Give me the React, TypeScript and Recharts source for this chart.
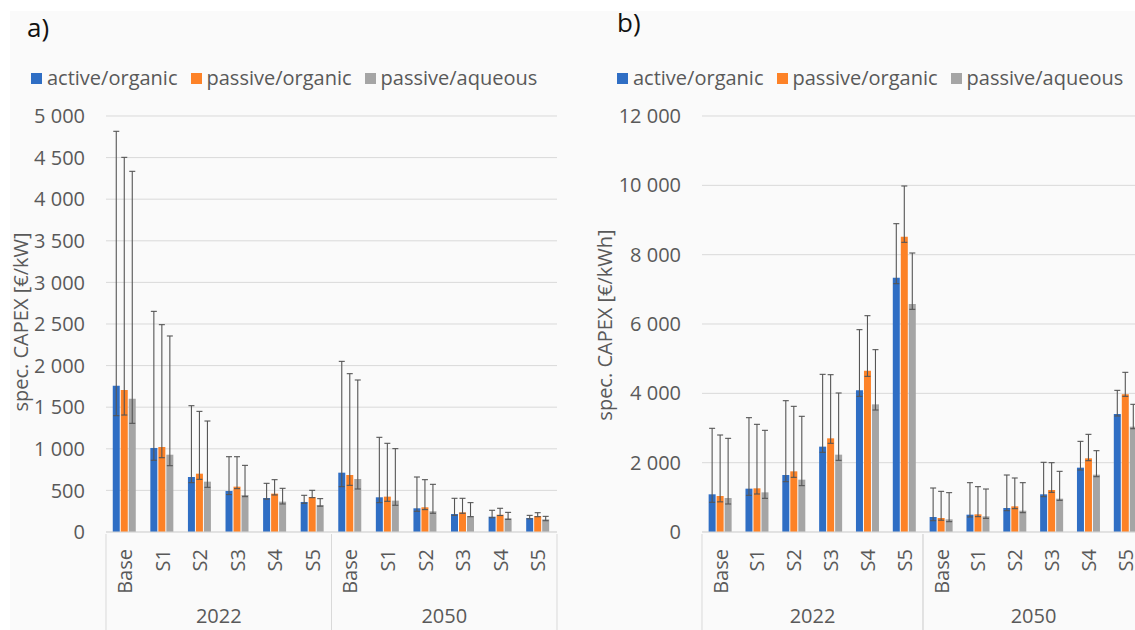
import { BarChart, Bar, XAxis, YAxis, CartesianGrid, ErrorBar } from "recharts";

const scenarios = ["Base", "S1", "S2", "S3", "S4", "S5", "Base", "S1", "S2", "S3", "S4", "S5"];
const years = ["2022", "2022", "2022", "2022", "2022", "2022", "2050", "2050", "2050", "2050", "2050", "2050"];
const seriesNames = ["active/organic", "passive/organic", "passive/aqueous"];

// a) spec. CAPEX [€/kW]
const kwActiveOrganic = [1758, 1010, 661, 493, 409, 361, 713, 417, 285, 216, 184, 168];
const kwActiveOrganicLow = [1398, 862, 593, 450, 395, 345, 545, 353, 249, 200, 172, 158];
const kwActiveOrganicHigh = [4816, 2652, 1518, 905, 585, 441, 2051, 1138, 661, 405, 261, 200];
const kwPassiveOrganic = [1707, 1022, 701, 545, 461, 421, 685, 425, 297, 236, 208, 192];
const kwPassiveOrganicLow = [1406, 893, 633, 521, 445, 413, 561, 369, 269, 225, 198, 184];
const kwPassiveOrganicHigh = [4503, 2492, 1450, 905, 629, 501, 1903, 1066, 629, 405, 285, 232];
const kwPassiveAqueous = [1603, 929, 605, 445, 365, 325, 637, 377, 249, 192, 164, 152];
const kwPassiveAqueousLow = [1306, 797, 537, 425, 337, 310, 517, 321, 225, 184, 152, 136];
const kwPassiveAqueousHigh = [4335, 2356, 1334, 801, 525, 401, 1827, 1002, 573, 353, 236, 188];
const kwTicks = [0, 500, 1000, 1500, 2000, 2500, 3000, 3500, 4000, 4500, 5000];

// b) spec. CAPEX [€/kWh]
const kwhActiveOrganic = [1087, 1250, 1644, 2462, 4086, 7337, 433, 500, 692, 1087, 1856, 3404];
const kwhActiveOrganicLow = [857, 1058, 1452, 2298, 3913, 7164, 327, 433, 615, 1019, 1788, 3346];
const kwhActiveOrganicHigh = [2991, 3298, 3788, 4548, 5837, 8894, 1269, 1423, 1644, 2010, 2615, 4086];
const kwhPassiveOrganic = [1038, 1260, 1750, 2702, 4654, 8519, 404, 510, 740, 1212, 2125, 3971];
const kwhPassiveOrganicLow = [870, 1096, 1577, 2558, 4490, 8356, 340, 443, 673, 1144, 2058, 3913];
const kwhPassiveOrganicHigh = [2798, 3106, 3625, 4538, 6240, 9981, 1173, 1308, 1558, 2000, 2817, 4606];
const kwhPassiveAqueous = [981, 1144, 1510, 2231, 3682, 6577, 365, 452, 615, 962, 1654, 3038];
const kwhPassiveAqueousLow = [808, 971, 1337, 2067, 3519, 6423, 298, 394, 558, 913, 1596, 2980];
const kwhPassiveAqueousHigh = [2702, 2933, 3337, 4010, 5260, 8048, 1135, 1240, 1423, 1750, 2346, 3683];
const kwhTicks = [0, 2000, 4000, 6000, 8000, 10000, 12000];

const colors = ["#2f6ec4", "#fd8227", "#a5a5a5"];
const font = "'Open Sans', sans-serif";
const textColor = "#595959";
const gridColor = "#d9d9d9";

const buildRows = (vals: number[][], lows: number[][], highs: number[][]) =>
  scenarios.map((scen, i) => ({
    scen,
    year: years[i],
    ao: vals[0][i],
    aoErr: [vals[0][i] - lows[0][i], highs[0][i] - vals[0][i]],
    po: vals[1][i],
    poErr: [vals[1][i] - lows[1][i], highs[1][i] - vals[1][i]],
    pa: vals[2][i],
    paErr: [vals[2][i] - lows[2][i], highs[2][i] - vals[2][i]],
  }));

const rowsKw = buildRows(
  [kwActiveOrganic, kwPassiveOrganic, kwPassiveAqueous],
  [kwActiveOrganicLow, kwPassiveOrganicLow, kwPassiveAqueousLow],
  [kwActiveOrganicHigh, kwPassiveOrganicHigh, kwPassiveAqueousHigh]
);
const rowsKwh = buildRows(
  [kwhActiveOrganic, kwhPassiveOrganic, kwhPassiveAqueous],
  [kwhActiveOrganicLow, kwhPassiveOrganicLow, kwhPassiveAqueousLow],
  [kwhActiveOrganicHigh, kwhPassiveOrganicHigh, kwhPassiveAqueousHigh]
);

const fmt = (n: number) => String(n).replace(/\B(?=(\d{3})+(?!\d))/g, " ");

const ScenarioTick = ({ x, y, payload }: any) => (
  <text
    x={x}
    y={y}
    transform={`rotate(-90 ${x} ${y})`}
    textAnchor="end"
    dy="0.36em"
    fill={textColor}
    fontSize={20}
    fontFamily={font}
  >
    {payload.value}
  </text>
);

const YearTick = ({ x, y, payload, half }: any) => (
  <g>
    <line x1={x - half} x2={x - half} y1={y - 62} y2={y + 40} stroke={gridColor} />
    <line x1={x + half} x2={x + half} y1={y - 62} y2={y + 40} stroke={gridColor} />
    <text x={x} y={y + 27} textAnchor="middle" fill={textColor} fontSize={20} fontFamily={font}>
      {payload.value}
    </text>
  </g>
);

const Legend = ({ left, top }: { left: number; top: number }) => (
  <div
    style={{
      position: "absolute",
      left,
      top,
      display: "flex",
      alignItems: "center",
      fontFamily: font,
      fontSize: 20,
      lineHeight: "22px",
      color: textColor,
      whiteSpace: "nowrap",
    }}
  >
    {seriesNames.map((name, i) => (
      <div key={name} style={{ display: "flex", alignItems: "center", marginRight: 13 }}>
        <span style={{ width: 11, height: 11, background: colors[i], marginRight: 5 }} />
        <span>{name}</span>
      </div>
    ))}
  </div>
);

const YTitle = ({ text, cx, cy }: { text: string; cx: number; cy: number }) => (
  <div
    style={{
      position: "absolute",
      left: cx,
      top: cy,
      transform: "translate(-50%, -50%) rotate(-90deg)",
      fontFamily: font,
      fontSize: 20,
      color: textColor,
      whiteSpace: "nowrap",
      lineHeight: "22px",
    }}
  >
    {text}
  </div>
);

type PanelProps = {
  rows: any[];
  ticks: number[];
  left: number;
  width: number;
  yWidth: number;
  right: number;
};

const Panel = ({ rows, ticks, left, width, yWidth, right }: PanelProps) => {
  const half = (width - yWidth - right) / 4;
  const keys = ["ao", "po", "pa"];
  return (
    <div style={{ position: "absolute", left, top: 0 }}>
      <BarChart
        width={width}
        height={630}
        data={rows}
        margin={{ top: 116, right, bottom: 0, left: 0 }}
        barCategoryGap="18%"
        barGap={1}
      >
        <CartesianGrid vertical={false} stroke={gridColor} />
        <XAxis
          dataKey="scen"
          interval={0}
          height={62}
          tickSize={0}
          tickMargin={17}
          axisLine={{ stroke: gridColor }}
          tickLine={false}
          tick={<ScenarioTick />}
        />
        <XAxis
          xAxisId="yr"
          dataKey="year"
          allowDuplicatedCategory={false}
          interval={0}
          height={36}
          tickSize={0}
          axisLine={false}
          tickLine={false}
          tick={(p: any) => <YearTick {...p} half={half} />}
        />
        <YAxis
          width={yWidth}
          domain={[ticks[0], ticks[ticks.length - 1]]}
          ticks={ticks}
          interval={0}
          tickSize={0}
          tickMargin={21}
          axisLine={false}
          tickLine={false}
          tickFormatter={fmt}
          tick={{ fill: textColor, fontSize: 20, fontFamily: font }}
        />
        {keys.map((k, i) => (
          <Bar key={k} dataKey={k} name={seriesNames[i]} fill={colors[i]} isAnimationActive={false}>
            <ErrorBar dataKey={`${k}Err`} direction="y" width={3} stroke="#555" strokeWidth={1.1} />
          </Bar>
        ))}
      </BarChart>
    </div>
  );
};

export default function App() {
  return (
    <div
      style={{
        position: "fixed",
        left: 0,
        top: 0,
        width: 1135,
        height: 630,
        overflow: "hidden",
        background: "#fff",
      }}
    >
      <div style={{ position: "absolute", left: 10, top: 11, right: 0, bottom: 0, background: "#fafafa" }} />
      <Panel rows={rowsKw} ticks={kwTicks} left={0} width={570} yWidth={106} right={13} />
      <Panel rows={rowsKwh} ticks={kwhTicks} left={580} width={564} yWidth={122} right={0} />
      <div style={{ position: "absolute", left: 27, top: 13, fontFamily: font, fontSize: 26, lineHeight: "28px", color: "#111" }}>
        a)
      </div>
      <div style={{ position: "absolute", left: 617, top: 8, fontFamily: font, fontSize: 26, lineHeight: "28px", color: "#111" }}>
        b)
      </div>
      <Legend left={31} top={67} />
      <Legend left={617} top={67} />
      <YTitle text="spec. CAPEX [€/kW]" cx={21} cy={322} />
      <YTitle text="spec. CAPEX [€/kWh]" cx={605} cy={325} />
    </div>
  );
}
